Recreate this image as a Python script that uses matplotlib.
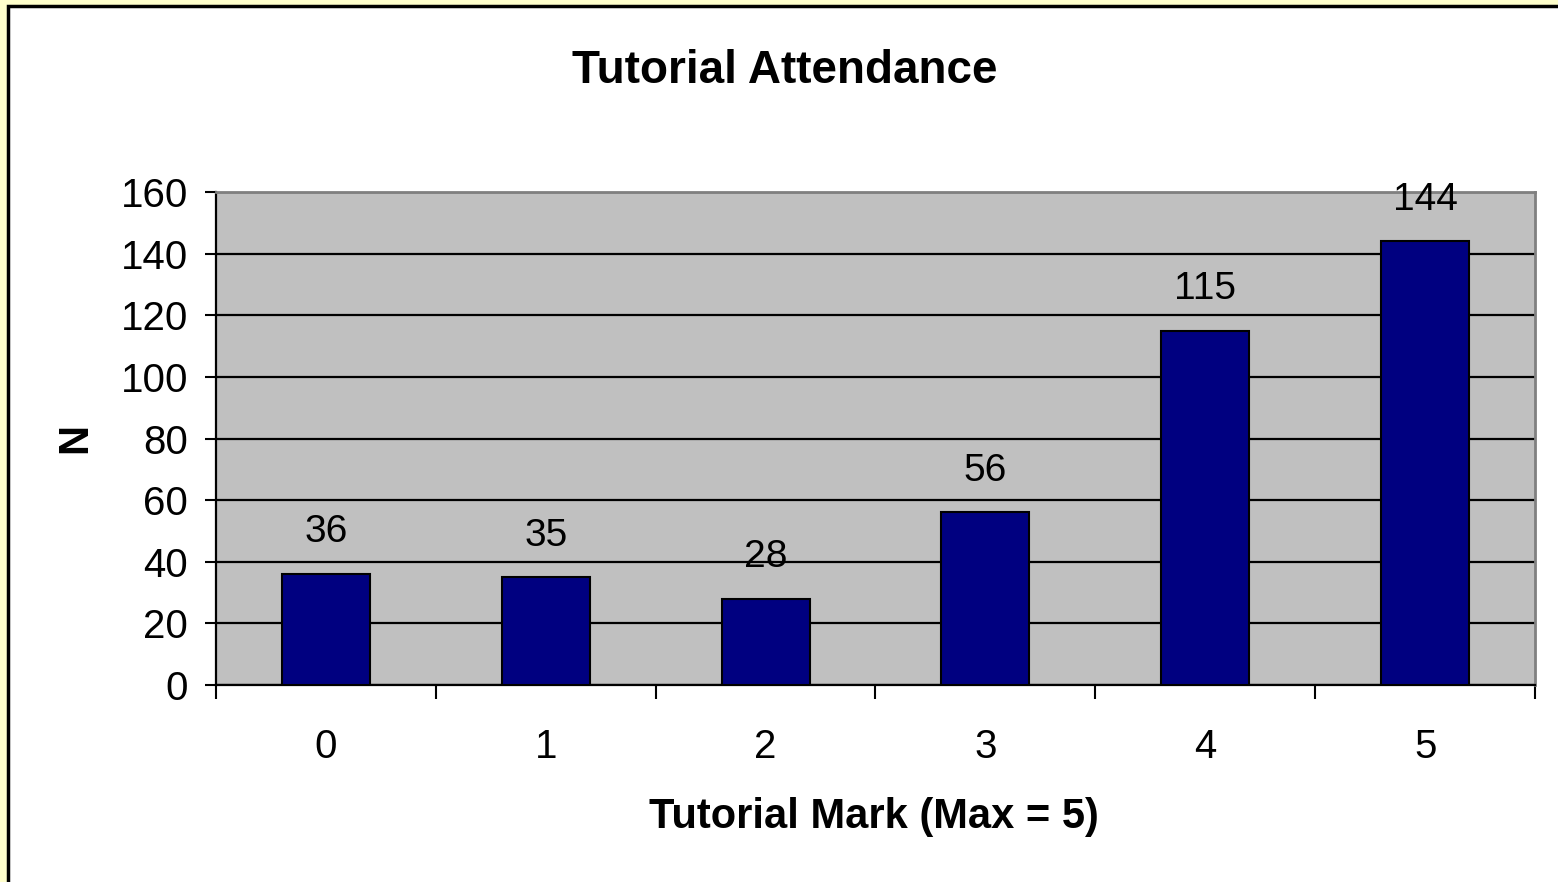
import matplotlib
matplotlib.use('Agg')
import matplotlib.pyplot as plt
from matplotlib.patches import Rectangle
import numpy as np

# data
marks = ['0', '1', '2', '3', '4', '5']
counts = [36, 35, 28, 56, 115, 144]
y_ticks = [0, 20, 40, 60, 80, 100, 120, 140, 160]

plt.rcParams['font.family'] = ['Liberation Sans', 'DejaVu Sans']

fig = plt.figure(figsize=(15.58, 8.82), dpi=100)
fig.patch.set_facecolor('#FFFFCC')

# white chart area with black frame, running off right/bottom edges
frame = Rectangle((8 / 1558, -0.05), 1.1, 1 - 6 / 882 + 0.05,
                  transform=fig.transFigure, facecolor='white',
                  edgecolor='black', linewidth=2.5, zorder=-1)
fig.add_artist(frame)

ax = fig.add_axes([216 / 1558, 1 - 685 / 882, (1535 - 216) / 1558, (685 - 192) / 882])
ax.set_facecolor('#C0C0C0')

x = np.arange(len(marks))
ax.set_axisbelow(True)
ax.yaxis.grid(True, color='black', linewidth=1.6)
bars = ax.bar(x, counts, width=0.4, color='#000080', edgecolor='black', linewidth=1.5, zorder=3)

for xi, c in zip(x, counts):
    ax.text(xi, c + 13.5, str(c), ha='center', va='center', fontsize=28)

ax.set_xlim(-0.5, len(marks) - 0.5)
ax.set_ylim(0, 160)
ax.set_yticks(y_ticks)
ax.tick_params(axis='y', labelsize=29, length=8, width=1.5, pad=12, direction='out')

# ticks at category boundaries, labels in the middle
ax.set_xticks(np.arange(-0.5, len(marks), 1.0))
ax.set_xticklabels([])
ax.set_xticks(x, minor=True)
ax.set_xticklabels(marks, minor=True)
ax.tick_params(axis='x', which='major', length=10, width=1.5, direction='out')
ax.tick_params(axis='x', which='minor', length=0, labelsize=29, pad=31)

for side in ('top', 'right'):
    ax.spines[side].set_color('#808080')
    ax.spines[side].set_linewidth(2)
for side in ('left', 'bottom'):
    ax.spines[side].set_color('black')
    ax.spines[side].set_linewidth(1.6)

fig.text(785 / 1558, 1 - 71 / 882, 'Tutorial Attendance', ha='center', va='center',
         fontsize=33, fontweight='bold')
fig.text(874 / 1558, 1 - 817 / 882, 'Tutorial Mark (Max = 5)', ha='center', va='center',
         fontsize=30, fontweight='bold')
fig.text(75 / 1558, 1 - 438 / 882, 'N', ha='center', va='center', rotation=90,
         fontsize=30, fontweight='bold')

fig.savefig('out.png', dpi=100, facecolor=fig.get_facecolor())
